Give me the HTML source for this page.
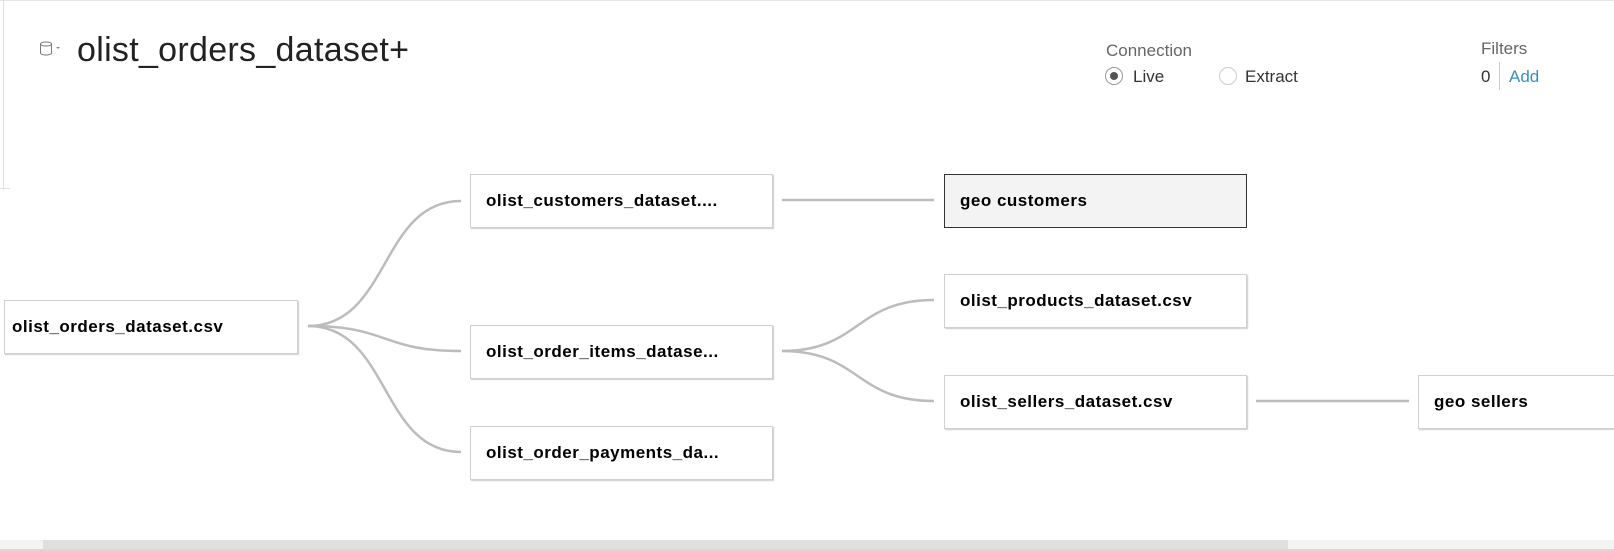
<!DOCTYPE html>
<html><head><meta charset="utf-8"><style>
html,body{margin:0;padding:0;width:1614px;height:551px;overflow:hidden;background:#fff;font-family:"Liberation Sans",Arial,sans-serif;}
.n{position:absolute;box-sizing:border-box;height:54px;border:1px solid #d0d0d0;background:#fff;box-shadow:1px 1px 1px #ccc;font-weight:bold;font-size:17px;letter-spacing:0.5px;color:#000;line-height:52px;padding-left:15px;white-space:nowrap;overflow:hidden}
.t{position:absolute;white-space:nowrap}
</style></head><body>
<div style="position:absolute;left:0;top:0;width:1614px;height:1px;background:#e6e6e6"></div>
<div style="position:absolute;left:3px;top:0;width:1px;height:190px;background:#e0e0e0"></div>
<div style="position:absolute;left:0;top:188px;width:10px;height:1px;background:#e0e0e0"></div>
<svg style="position:absolute;left:0;top:0" width="1614" height="551">
<g fill="none" stroke="#bcbcbc" stroke-width="2.5">
<path d="M308,326 C390,326 380,201 461,201"/>
<path d="M308,326 C390,326 380,351 461,351"/>
<path d="M308,326 C390,326 380,452 461,452"/>
<path d="M782,200 L934,200"/>
<path d="M782,351 C860,351 855,300 934,300"/>
<path d="M782,351 C860,351 855,401 934,401"/>
<path d="M1256,401 L1409,401"/>
</g>
<g fill="none" stroke="#777" stroke-width="1">
<ellipse cx="46" cy="44" rx="5.5" ry="2"/>
<path d="M40.5,44 V53 A5.5,2 0 0 0 51.5,53 V44"/>
</g>
<path d="M56,47 L60,47 L58,49Z" fill="#888"/>
<circle cx="1114" cy="76" r="8.5" fill="#fff" stroke="#999" stroke-width="1"/>
<circle cx="1114" cy="76" r="4" fill="#555"/>
<circle cx="1228" cy="76" r="8.5" fill="#fff" stroke="#ccc" stroke-width="1"/>
<line x1="1499.5" y1="62" x2="1499.5" y2="90" stroke="#ccc"/>
</svg>
<div class="t" style="left:77px;top:31px;font-size:34px;color:#222;letter-spacing:0.3px">olist_orders_dataset+</div>
<div class="t" style="left:1106px;top:41px;font-size:17px;color:#666">Connection</div>
<div class="t" style="left:1133px;top:67px;font-size:17px;color:#333">Live</div>
<div class="t" style="left:1245px;top:67px;font-size:17px;color:#333">Extract</div>
<div class="t" style="left:1481px;top:39px;font-size:17px;color:#666">Filters</div>
<div class="t" style="left:1481px;top:67px;font-size:17px;color:#333">0</div>
<div class="t" style="left:1509px;top:67px;font-size:17px;color:#3a8fb7">Add</div>

<div class="n" style="left:4px;top:300px;width:294px;padding-left:7px">olist_orders_dataset.csv</div>
<div class="n" style="left:470px;top:174px;width:303px">olist_customers_dataset....</div>
<div class="n" style="left:470px;top:325px;width:303px">olist_order_items_datase...</div>
<div class="n" style="left:470px;top:426px;width:303px">olist_order_payments_da...</div>
<div class="n" style="left:944px;top:174px;width:303px;background:#f3f3f3;border:1.5px solid #333;box-shadow:none">geo customers</div>
<div class="n" style="left:944px;top:274px;width:303px">olist_products_dataset.csv</div>
<div class="n" style="left:944px;top:375px;width:303px">olist_sellers_dataset.csv</div>
<div class="n" style="left:1418px;top:375px;width:210px">geo sellers</div>

<div style="position:absolute;left:0;top:540px;width:1614px;height:9px;background:#f3f3f3"></div>
<div style="position:absolute;left:43px;top:540px;width:1245px;height:9px;background:#dfdfdf"></div>
<div style="position:absolute;left:0;top:549px;width:1614px;height:2px;background:#d8d8d8"></div>
</body></html>
